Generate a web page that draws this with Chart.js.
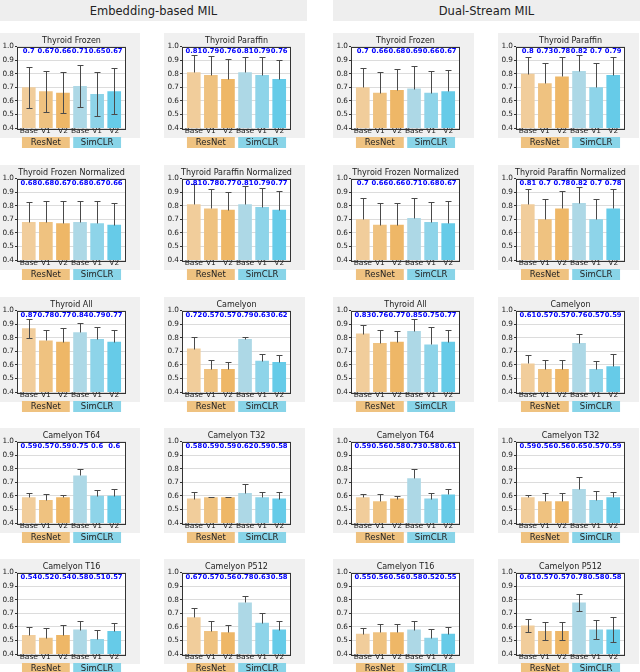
<!DOCTYPE html>
<html>
<head>
<meta charset="utf-8">
<script src="https://cdn.jsdelivr.net/npm/chart.js@4.4.0/dist/chart.umd.min.js"></script>
<style>
  body { margin: 0; background: #fff; font-family: "DejaVu Sans", sans-serif; }
  #page { position: relative; width: 640px; height: 672px; overflow: hidden; }
  .section { position: absolute; top: 0; height: 21px; background: #eeeeee; color: #222;
             font-size: 11.5px; line-height: 23px; text-align: center; }
  .panel { position: absolute; }
</style>
</head>
<body>
<div id="page"></div>
<script>
// ---- data ----
const sectionTitles = ['Embedding-based MIL', 'Dual-Stream MIL'];
const xLabels = ['Base', 'V1', 'V2', 'Base', 'V1', 'V2'];
const groupNames = ['ResNet', 'SimCLR'];
const yTicks = [0.4, 0.5, 0.6, 0.7, 0.8, 0.9, 1.0];

// row-major: cols 0-1 embedding-based, cols 2-3 dual-stream
const panelTitles = [
  'Thyroid Frozen', 'Thyroid Paraffin', 'Thyroid Frozen', 'Thyroid Paraffin',
  'Thyroid Frozen Normalized', 'Thyroid Paraffin Normalized', 'Thyroid Frozen Normalized', 'Thyroid Paraffin Normalized',
  'Thyroid All', 'Camelyon', 'Thyroid All', 'Camelyon',
  'Camelyon T64', 'Camelyon T32', 'Camelyon T64', 'Camelyon T32',
  'Camelyon T16', 'Camelyon P512', 'Camelyon T16', 'Camelyon P512'
];

const meanValues = [
  [0.70, 0.67, 0.66, 0.71, 0.65, 0.67],
  [0.81, 0.79, 0.76, 0.81, 0.79, 0.76],
  [0.70, 0.66, 0.68, 0.69, 0.66, 0.67],
  [0.80, 0.73, 0.78, 0.82, 0.70, 0.79],
  [0.68, 0.68, 0.67, 0.68, 0.67, 0.66],
  [0.81, 0.78, 0.77, 0.81, 0.79, 0.77],
  [0.70, 0.66, 0.66, 0.71, 0.68, 0.67],
  [0.81, 0.70, 0.78, 0.82, 0.70, 0.78],
  [0.87, 0.78, 0.77, 0.84, 0.79, 0.77],
  [0.72, 0.57, 0.57, 0.79, 0.63, 0.62],
  [0.83, 0.76, 0.77, 0.85, 0.75, 0.77],
  [0.61, 0.57, 0.57, 0.76, 0.57, 0.59],
  [0.59, 0.57, 0.59, 0.75, 0.60, 0.60],
  [0.58, 0.59, 0.59, 0.62, 0.59, 0.58],
  [0.59, 0.56, 0.58, 0.73, 0.58, 0.61],
  [0.59, 0.56, 0.56, 0.65, 0.57, 0.59],
  [0.54, 0.52, 0.54, 0.58, 0.51, 0.57],
  [0.67, 0.57, 0.56, 0.78, 0.63, 0.58],
  [0.55, 0.56, 0.56, 0.58, 0.52, 0.55],
  [0.61, 0.57, 0.57, 0.78, 0.58, 0.58]
];

const errValues = [
  [0.15, 0.15, 0.15, 0.155, 0.16, 0.17],
  [0.13, 0.14, 0.145, 0.11, 0.135, 0.14],
  [0.145, 0.155, 0.155, 0.165, 0.16, 0.16],
  [0.12, 0.145, 0.14, 0.12, 0.175, 0.135],
  [0.147, 0.152, 0.162, 0.152, 0.167, 0.162],
  [0.15, 0.145, 0.13, 0.135, 0.14, 0.135],
  [0.16, 0.16, 0.16, 0.147, 0.15, 0.165],
  [0.115, 0.15, 0.13, 0.12, 0.15, 0.14],
  [0.07, 0.08, 0.10, 0.07, 0.085, 0.085],
  [0.085, 0.065, 0.05, 0.015, 0.05, 0.05],
  [0.06, 0.095, 0.08, 0.09, 0.125, 0.09],
  [0.065, 0.065, 0.065, 0.065, 0.06, 0.09],
  [0.03, 0.045, 0.015, 0.05, 0.04, 0.05],
  [0.05, 0.005, 0.003, 0.065, 0.04, 0.045],
  [0.02, 0.05, 0.02, 0.065, 0.04, 0.04],
  [0.015, 0.06, 0.06, 0.09, 0.065, 0.04],
  [0.06, 0.07, 0.07, 0.065, 0.07, 0.055],
  [0.065, 0.07, 0.05, 0.05, 0.075, 0.065],
  [0.045, 0.06, 0.06, 0.065, 0.065, 0.05],
  [0.045, 0.065, 0.065, 0.06, 0.07, 0.09]
];

// panels where the lower half of the whisker is visible through the bar
const lowerWhiskers = {
  0: [1, 1, 1, 1, 1, 1],
  8: [1, 0, 0, 0, 0, 0],
  19: [1, 1, 1, 1, 1, 1]
};

// ---- styling / layout ----
const barColors = ['#f1cd9b', '#efc280', '#eeb767', '#add8e6', '#8ed4e9', '#66cbe8'];
const groupColors = ['#efc280', '#88d4e8'];
const colLefts = [-1, 164, 333, 498];
const rowTops = [33, 165, 297, 428, 559];
const sectionBoxes = [[0, 307], [333, 307]];
const CW = 142, CH = 117;

const page = document.getElementById('page');
sectionTitles.forEach((t, i) => {
  const d = document.createElement('div');
  d.className = 'section';
  d.style.left = sectionBoxes[i][0] + 'px';
  d.style.width = sectionBoxes[i][1] + 'px';
  d.textContent = t;
  page.appendChild(d);
});

const fmt = v => String(Number(v.toFixed(2)));

function makeDeco(idx) {
  const means = meanValues[idx], errs = errValues[idx];
  const lower = lowerWhiskers[idx] || [0, 0, 0, 0, 0, 0];
  return {
    id: 'deco' + idx,
    beforeDraw(chart) {
      const { ctx, chartArea: a } = chart;
      ctx.save();
      ctx.fillStyle = '#f0f0f0';
      ctx.fillRect(0, 0, 141, 105);
      ctx.fillStyle = '#ffffff';
      ctx.fillRect(a.left, a.top, a.width, a.height);
      ctx.restore();
    },
    afterDatasetsDraw(chart) {
      const { ctx, chartArea: a, scales: { x, y } } = chart;
      const bars = chart.getDatasetMeta(0).data;
      ctx.save();

      // error bars
      ctx.strokeStyle = '#4a4a4a';
      ctx.lineWidth = 1;
      means.forEach((m, i) => {
        const px = Math.round(x.getPixelForValue(i)) + 0.5;
        const top = Math.round(y.getPixelForValue(m + errs[i])) + 0.5;
        const bot = Math.round(y.getPixelForValue(lower[i] ? m - errs[i] : m)) + 0.5;
        ctx.beginPath();
        ctx.moveTo(px, top); ctx.lineTo(px, bot);
        ctx.moveTo(px - 3, top); ctx.lineTo(px + 3, top);
        if (lower[i]) { ctx.moveTo(px - 3, bot); ctx.lineTo(px + 3, bot); }
        ctx.stroke();
      });

      // frame
      ctx.strokeStyle = '#333';
      ctx.strokeRect(Math.round(a.left) + 0.5, Math.round(a.top) + 0.5,
                     Math.round(a.width) - 1, Math.round(a.height));

      // value labels
      ctx.fillStyle = '#0000ff';
      ctx.font = 'bold 6.8px "DejaVu Sans"';
      ctx.textAlign = 'center';
      ctx.textBaseline = 'middle';
      means.forEach((m, i) => {
        ctx.fillText(fmt(m), x.getPixelForValue(i), y.getPixelForValue(0.965));
      });

      // title
      ctx.fillStyle = '#222';
      ctx.font = '8px "DejaVu Sans"';
      ctx.fillText(panelTitles[idx], (a.left + a.right) / 2, a.top - 6);

      // group labels under the axis
      ctx.font = '8.5px "DejaVu Sans"';
      groupNames.forEach((g, k) => {
        const b0 = bars[k * 3], b2 = bars[k * 3 + 2];
        const l = b0.x - b0.width / 2, r = b2.x + b2.width / 2;
        ctx.fillStyle = groupColors[k];
        ctx.fillRect(l, 104, r - l, 11);
        ctx.fillStyle = '#222';
        ctx.fillText(g, (l + r) / 2, 110);
      });
      ctx.restore();
    }
  };
}

panelTitles.forEach((title, idx) => {
  const row = Math.floor(idx / 4), col = idx % 4;
  const canvas = document.createElement('canvas');
  canvas.className = 'panel';
  canvas.width = CW; canvas.height = CH;
  canvas.style.left = colLefts[col] + 'px';
  canvas.style.top = rowTops[row] + 'px';
  page.appendChild(canvas);

  new Chart(canvas, {
    type: 'bar',
    data: {
      datasets: [{
        data: meanValues[idx].map((v, i) => ({ x: i, y: v })),
        backgroundColor: barColors,
        borderWidth: 0,
        categoryPercentage: 1,
        barPercentage: 0.8
      }]
    },
    options: {
      responsive: false,
      animation: false,
      devicePixelRatio: 1,
      layout: { padding: { top: 13.5, left: 0, right: 15, bottom: 13 } },
      plugins: { legend: { display: false }, tooltip: { enabled: false }, title: { display: false } },
      scales: {
        x: {
          type: 'linear',
          min: -0.69, max: 5.69,
          offset: false,
          afterBuildTicks: s => { s.ticks = xLabels.map((_, i) => ({ value: i })); },
          afterFit: s => { s.height = 9; },
          grid: { display: false, drawTicks: false, tickLength: 0, offset: false },
          border: { display: false },
          ticks: {
            callback: v => xLabels[v],
            autoSkip: false, maxRotation: 0, padding: -1,
            color: '#222', font: { family: 'DejaVu Sans', size: 7.5 }
          }
        },
        y: {
          min: 0.4, max: 1.0,
          afterBuildTicks: s => { s.ticks = yTicks.map(v => ({ value: v })); },
          afterFit: s => { s.width = 18; },
          border: { display: false },
          grid: { color: '#dcdcdc', tickColor: '#333', tickLength: 2 },
          ticks: {
            callback: v => v.toFixed(1), padding: 1,
            color: '#222', font: { family: 'DejaVu Sans', size: 7.3 }
          }
        }
      }
    },
    plugins: [makeDeco(idx)]
  });
});
</script>
</body>
</html>
